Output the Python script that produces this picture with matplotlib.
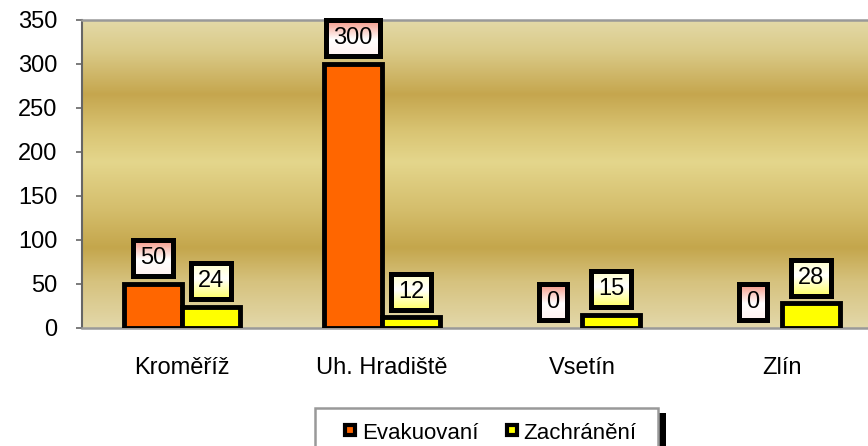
import matplotlib
matplotlib.use("Agg")
import matplotlib.pyplot as plt
import numpy as np
from matplotlib.colors import LinearSegmentedColormap
from matplotlib.lines import Line2D
from matplotlib.patches import Rectangle

plt.rcParams['font.family'] = ['Liberation Sans', 'DejaVu Sans']

categories = ["Kroměříž", "Uh. Hradiště", "Vsetín", "Zlín"]
evakuovani = [50, 300, 0, 0]
zachraneni = [24, 12, 15, 28]
series_names = ["Evakuovaní", "Zachránění"]
yticks = [0, 50, 100, 150, 200, 250, 300, 350]

orange = "#FF6600"
yellow = "#FFFF00"
FS = 17

fig = plt.figure(figsize=(8.68, 4.46), dpi=100)
W, H = 868, 446
ax = fig.add_axes([82 / W, 1 - 328 / H, 800 / W, 308 / H])

# gradient background
stops = [(0.0, "#E3D9A7"), (0.10, "#DACA88"), (0.24, "#C5A64E"), (0.36, "#D9C473"),
         (0.46, "#E4D68C"), (0.62, "#D4BD6B"), (0.74, "#C4A64C"), (0.85, "#D6C27E"),
         (1.0, "#E3D8AA")]
cmap = LinearSegmentedColormap.from_list("bg", stops)
grad = np.linspace(0, 1, 256).reshape(-1, 1)
ax.imshow(grad, cmap=cmap, aspect="auto", extent=[0, 1, 0, 1],
          transform=ax.transAxes, zorder=0)

x = np.arange(len(categories))
bw = 0.29
ax.bar(x - bw / 2, evakuovani, bw, color=orange, edgecolor="black",
       linewidth=[3.5 if v > 0 else 0 for v in evakuovani], zorder=3)
ax.bar(x + bw / 2, zachraneni, bw, color=yellow, edgecolor="black",
       linewidth=[3.5 if v > 0 else 0 for v in zachraneni], zorder=3)

ax.set_xlim(-0.5, len(categories) - 0.5)
ax.set_ylim(0, 350)

labels = []
for xs, vals, cm in ((x - bw / 2, evakuovani,
                      LinearSegmentedColormap.from_list("o", [(0, "#FFF2EF"), (0.45, "#FFFFFF"), (1, "#F4907E")])),
                     (x + bw / 2, zachraneni,
                      LinearSegmentedColormap.from_list("y", [(0, "#FFFF66"), (0.55, "#FFFFFF"), (1, "#FFFFC8")]))):
    for xi, v in zip(xs, vals):
        a = ax.annotate(str(v), (xi, v), xytext=(0, 18.5), textcoords="offset points",
                        ha="center", va="center", fontsize=FS, zorder=6,
                        bbox=dict(boxstyle="square,pad=0.3", fc="none", ec="black", lw=3.6))
        labels.append((a, cm))

ax.set_yticks(yticks)
ax.set_xticks(x)
ax.set_xticklabels(categories)
ax.tick_params(axis="y", labelsize=FS, length=4.5, width=1.2, direction="out",
               color="#666666", pad=13)
ax.tick_params(axis="x", labelsize=FS, length=0, pad=21)
for s in ["top", "right", "bottom"]:
    ax.spines[s].set_color("#999999")
    ax.spines[s].set_linewidth(1.8)
ax.spines["left"].set_color("#666666")
ax.spines["left"].set_linewidth(1.5)

# gradient fills for label boxes
fig.canvas.draw()
r = fig.canvas.get_renderer()
inv = ax.transData.inverted()
g = np.linspace(0, 1, 64).reshape(-1, 1)
for a, cm in labels:
    bb = a.get_bbox_patch().get_window_extent(r)
    (x0, y0), (x1, y1) = inv.transform([(bb.x0, bb.y0), (bb.x1, bb.y1)])
    ax.imshow(g, cmap=cm, aspect="auto", extent=[x0, x1, y0, y1],
              origin="lower", zorder=5, interpolation="bilinear")
ax.set_xlim(-0.5, len(categories) - 0.5)
ax.set_ylim(0, 350)

# legend (drawn in figure pixels)
fig.patches.append(Rectangle((659 / W, 0), 7 / W, (446 - 413) / H, transform=fig.transFigure,
                             facecolor="black", edgecolor="none", zorder=1))
fig.patches.append(Rectangle((315 / W, -0.05), (658 - 315) / W, 0.05 + (446 - 408) / H,
                             transform=fig.transFigure, facecolor="white",
                             edgecolor="#999999", linewidth=1.8, zorder=2))
for mx, tx, c, name in ((350, 362, orange, series_names[0]),
                        (512, 523, yellow, series_names[1])):
    fig.add_artist(Line2D([mx / W], [1 - 430 / H], transform=fig.transFigure,
                          marker="s", markersize=6.8, markerfacecolor=c,
                          markeredgecolor="black", markeredgewidth=3.0,
                          linestyle="none", zorder=3))
    fig.text(tx / W, 1 - 439 / H, name, fontsize=16, ha="left", va="baseline", zorder=3)

fig.savefig("out.png", dpi=100)
